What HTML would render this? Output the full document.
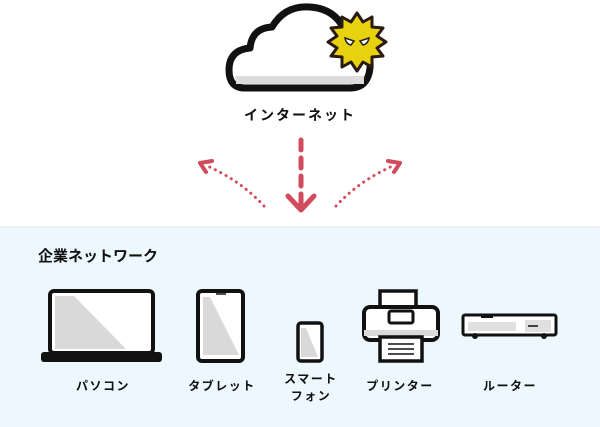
<!DOCTYPE html>
<html><head><meta charset="utf-8"><style>
body{margin:0;width:600px;height:427px;overflow:hidden;background:#fff;font-family:"Liberation Sans","Noto Sans CJK JP",sans-serif}
</style></head><body>
<svg width="600" height="427" viewBox="0 0 600 427" xmlns="http://www.w3.org/2000/svg" style="display:block">
<rect x="0" y="227" width="600" height="200" fill="#ecf8fd"/>
<line x1="0" y1="227" x2="600" y2="227" stroke="#dde9ee"/>
<!-- cloud -->
<path d="M245,88 Q229,88 229,70 Q229,50 250,48 Q252,28 272,27 Q285,5 310,7 Q340,9 348,40 Q372,44 370,68 Q368,88 350,88 Z" fill="#fff" stroke="#111" stroke-width="7" stroke-linejoin="round"/>
<path d="M234,76 Q238,84 248,84 L352,84 Q362,84 366,76 Q364,82 352,82 L248,82 Z" fill="#d9d9d9"/>
<rect x="236" y="76" width="128" height="8" fill="#dcdcdc"/>
<!-- sun -->
<g transform="translate(357,42)">
<polygon points="0,-29 6,-20 15,-25 15,-15 26,-14 20,-6 29,0 20,6 26,14 15,15 15,25 6,20 0,29 -6,20 -15,25 -15,15 -26,14 -20,6 -29,0 -20,-6 -26,-14 -15,-15 -15,-25 -6,-20" fill="#e8d20e" stroke="#2a1a14" stroke-width="3" stroke-linejoin="round"/>
<path d="M-12,-4 L-3,-1 L-6,3 Q-11,2 -12,-4Z M12,-4 L3,-1 L6,3 Q11,2 12,-4Z" fill="#fff" stroke="#222" stroke-width="1.5"/>
</g>
<text x="300" y="120" text-anchor="middle" font-size="14" font-weight="bold" letter-spacing="2" fill="#111">インターネット</text>
<!-- arrows -->
<g stroke="#d04b5c" fill="none" stroke-linecap="round">
<line x1="301" y1="140" x2="301" y2="207" stroke-width="5" stroke-dasharray="10,8"/>
<polyline points="288,196 301,210 314,196" stroke-width="5" stroke-linejoin="round"/>
<path d="M264,206 Q240,180 205,165" stroke-width="3" stroke-dasharray="0.1,6"/>
<polyline points="212,161 200,163 206,172" stroke-width="4" stroke-linejoin="round"/>
<path d="M336,206 Q360,180 395,165" stroke-width="3" stroke-dasharray="0.1,6"/>
<polyline points="388,161 400,163 394,172" stroke-width="4" stroke-linejoin="round"/>
</g>
<text x="38" y="261" font-size="15" font-weight="bold" fill="#111">企業ネットワーク</text>
<!-- laptop -->
<rect x="50" y="291" width="103" height="62" rx="4" fill="#fff" stroke="#111" stroke-width="4"/>
<polygon points="55,296 74,296 126,349 55,349" fill="#d9d9d9"/>
<rect x="41" y="352" width="121" height="10" rx="3" fill="#111"/>
<!-- tablet -->
<rect x="198" y="291" width="45" height="70" rx="4" fill="#fff" stroke="#111" stroke-width="4"/>
<polygon points="203,297 210,297 239,355 203,355" fill="#d9d9d9"/>
<line x1="216" y1="294" x2="226" y2="294" stroke="#111" stroke-width="1.5"/>
<!-- phone -->
<rect x="298" y="323" width="24" height="38" rx="3" fill="#fff" stroke="#111" stroke-width="3.5"/>
<polygon points="301,328 306,328 318,357 301,357" fill="#d9d9d9"/>
<!-- printer -->
<rect x="380" y="291" width="36" height="22" fill="#fff" stroke="#111" stroke-width="3.5"/>
<rect x="364" y="307" width="74" height="33" rx="6" fill="#fff" stroke="#111" stroke-width="4"/>
<rect x="364" y="330" width="74" height="6" fill="#d9d9d9"/>
<rect x="389" y="311" width="24" height="12" rx="2" fill="#fff" stroke="#111" stroke-width="3"/>
<rect x="380" y="337" width="42" height="24" fill="#fff" stroke="#111" stroke-width="3.5"/>
<g stroke="#111" stroke-width="1.5"><line x1="388" y1="344" x2="414" y2="344"/><line x1="388" y1="349" x2="414" y2="349"/><line x1="388" y1="354" x2="414" y2="354"/></g>
<!-- router -->
<rect x="463" y="315" width="93" height="20" rx="2" fill="#fff" stroke="#111" stroke-width="3"/>
<rect x="468" y="322" width="48" height="9" fill="#e0e0e0"/>
<rect x="525" y="320" width="26" height="12" fill="#e0e0e0"/>
<rect x="481" y="314" width="12" height="4" fill="#111"/>
<circle cx="475" cy="336" r="3" fill="#111"/><circle cx="544" cy="336" r="3" fill="#111"/>
<line x1="528" y1="326" x2="538" y2="326" stroke="#111" stroke-width="1.5"/>
<!-- labels -->
<g font-size="12" font-weight="bold" fill="#111" text-anchor="middle" letter-spacing="1.5">
<text x="103" y="390">パソコン</text>
<text x="222" y="390">タブレット</text>
<text x="311" y="383">スマート</text>
<text x="311" y="400">フォン</text>
<text x="400" y="390">プリンター</text>
<text x="510" y="390">ルーター</text>
</g>
</svg>
</body></html>
